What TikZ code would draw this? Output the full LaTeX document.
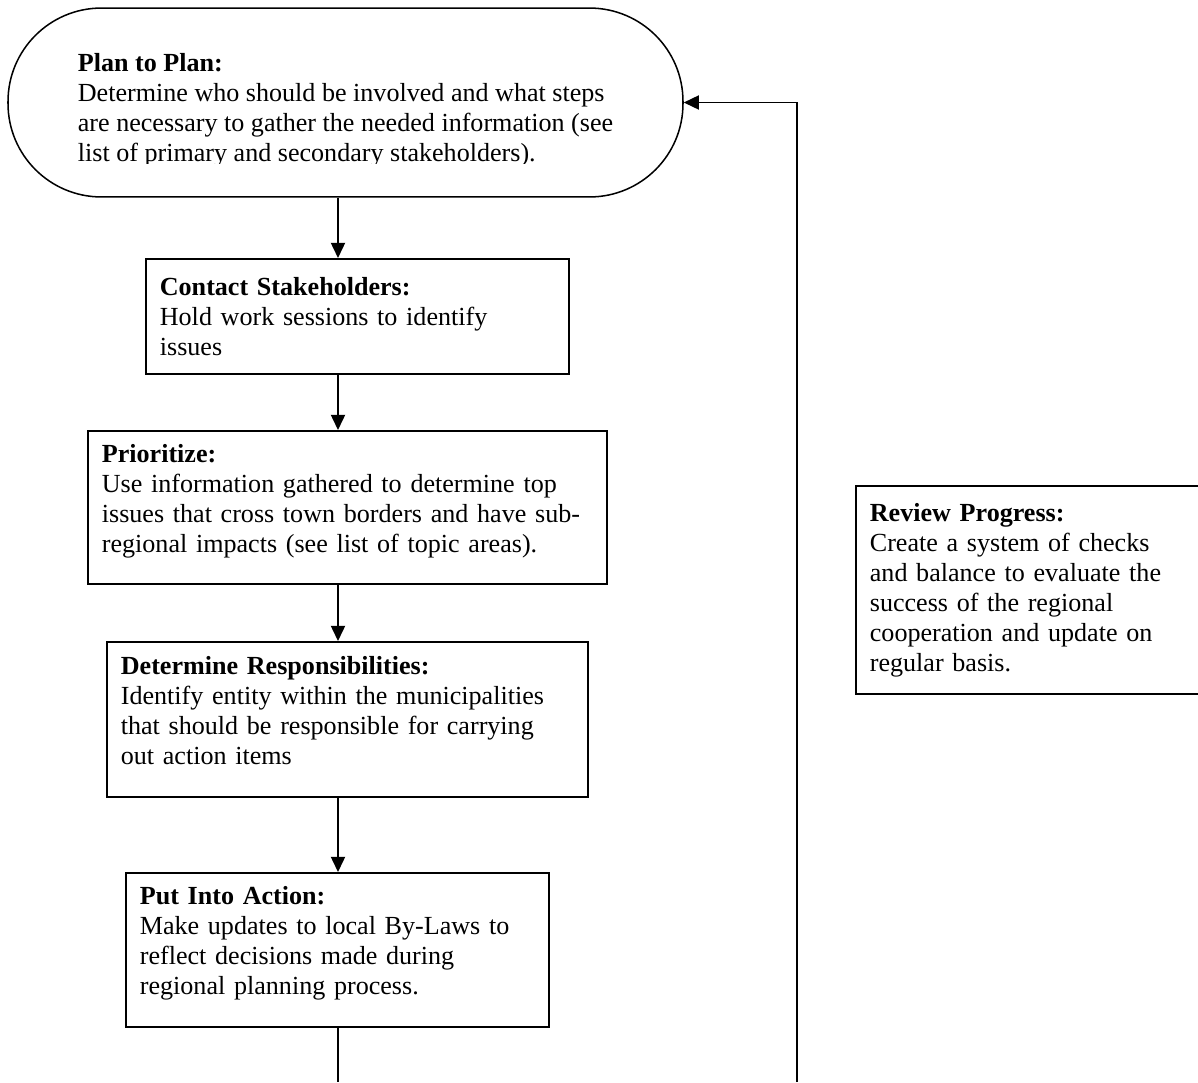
\documentclass[tikz,border=0pt]{standalone}
\usepackage{fontspec}
\setmainfont{Liberation Serif}
\usepackage{trimclip}
\usepackage{tikz}
\usetikzlibrary{arrows.meta}
\tikzstyle{terminal} = [rectangle, rounded corners=43pt, minimum width=310.5pt, minimum height=86.9pt, align=left, draw=black, line width=0.7pt]
\tikzstyle{stepbox} = [rectangle, anchor=north west, align=left, inner xsep=6.44pt, inner ysep=2pt, draw=black, line width=0.8pt]
\tikzstyle{arrow} = [line width=0.8pt,->,>={Triangle[length=7pt,width=6.5pt]}]

\begin{document}
\begin{tikzpicture}[x=0.46pt, y=-0.46pt, font=\fontsize{12}{13.8}\selectfont]
\clip (0,0) rectangle (1198,1082);
\node (plan) [terminal] at (345.5,102.5) {\rule{0pt}{13.7pt}\textbf{Plan to Plan:}\\Determine who should be involved and what steps\\are necessary to gather the needed information (see\\\clipbox{0pt 1.5pt 0pt 0pt}{list of primary and secondary stakeholders).}};
\node (contact) [stepbox, text width=181.7pt, minimum height=52.9pt] at (145,258) {\textbf{Contact Stakeholders:}\\Hold work sessions to identify\\issues};
\node (prior) [stepbox, text width=225.9pt, minimum height=70.4pt] at (87,430) {\textbf{Prioritize:}\\Use information gathered to determine top\\issues that cross town borders and have sub-\\regional impacts (see list of topic areas).\\[-5.5pt]\mbox{}};
\node (resp) [stepbox, text width=208.4pt, minimum height=71.3pt] at (106,641) {\textbf{Determine Responsibilities:}\\Identify entity within the municipalities\\that should be responsible for carrying\\out action items\\[-5.5pt]\mbox{}};
\node (action) [stepbox, text width=181.7pt, minimum height=70.8pt] at (125,872) {\textbf{Put Into Action:}\\Make updates to local By-Laws to\\reflect decisions made during\\regional planning process.\\[-5.5pt]\mbox{}};
\node (review) [stepbox, text width=148.1pt, minimum height=95.7pt] at (855,485) {\textbf{Review Progress:}\\Create a system of checks\\and balance to evaluate the\\success of the regional\\cooperation and update on\\regular basis.};
\coordinate (spine) at (338,0);
\coordinate (tailend) at (338,1082);
\coordinate (loopstart) at (797,1082);
\draw [arrow] (plan.south -| spine) -- (contact.north -| spine);
\draw [arrow] (contact.south -| spine) -- (prior.north -| spine);
\draw [arrow] (prior.south -| spine) -- (resp.north -| spine);
\draw [arrow] (resp.south -| spine) -- (action.north -| spine);
\draw [line width=0.8pt] (action.south -| spine) -- (tailend);
\draw [arrow] (loopstart) |- (plan.east);
\end{tikzpicture}
\end{document}
